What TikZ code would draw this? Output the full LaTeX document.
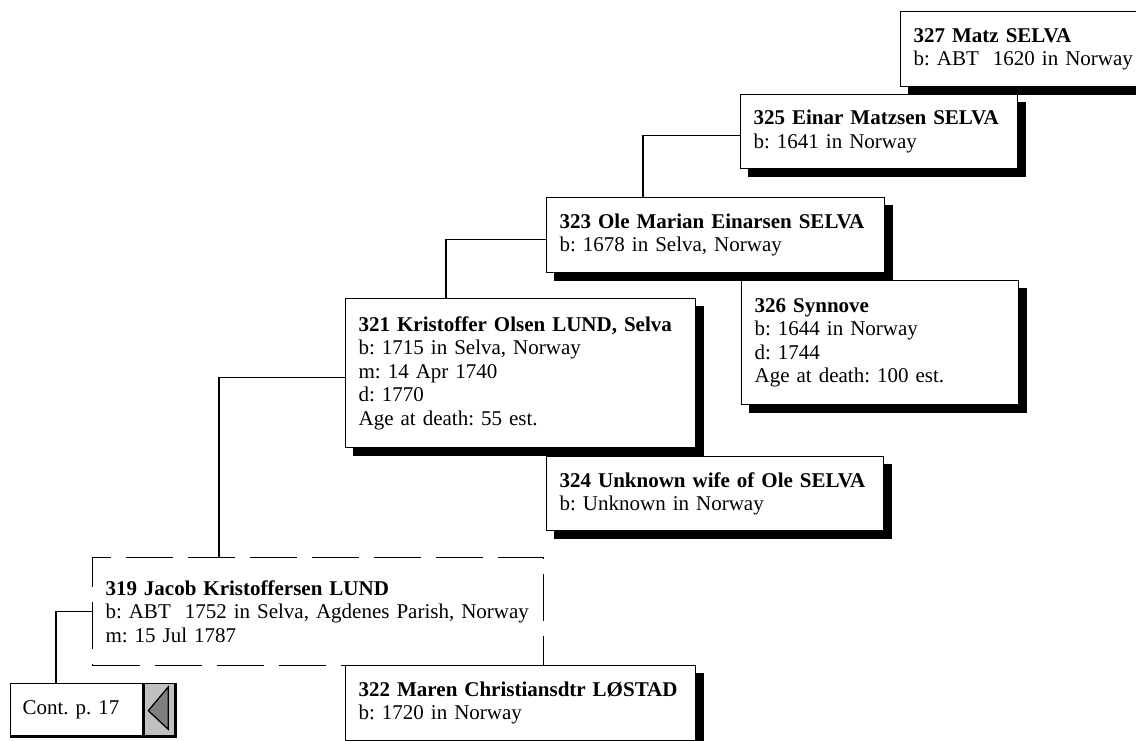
\documentclass[tikz,border=0pt]{standalone}
\usepackage{fontspec}
\setmainfont{Liberation Serif}
\usetikzlibrary{calc}
\pgfdeclarelayer{bg}
\pgfsetlayers{bg,main}
\definecolor{lightgr}{RGB}{192,192,192}
\definecolor{darkgr}{RGB}{128,128,128}
\newcommand{\boxfont}{\fontsize{21}{23.5}\selectfont\frenchspacing\hyphenpenalty=10000\relax}
\tikzset{
  person/.style={draw=black, line width=1.3pt, fill=white, anchor=north west,
    align=left, inner xsep=13pt, inner ysep=0pt, font=\boxfont},
  dashedperson/.style={person, dash pattern=on 47pt off 15pt, line width=1pt},
  link/.style={draw=black, line width=1.3pt},
  shadowfill/.style={fill=black},
}
\begin{document}
\begin{tikzpicture}[x=1pt,y=-1pt]
\useasboundingbox (0,0) rectangle (1136,741);
\clip (0,0) rectangle (1136,741);

\node[person, text width=250pt, minimum height=75pt] (b327) at (900,11)
  {\textbf{327 Matz SELVA}\\b: ABT\ \ 1620 in Norway};
\node[person, text width=251pt, minimum height=74pt] (b325) at (740,94)
  {\textbf{325 Einar Matzsen SELVA}\\b: 1641 in Norway};
\node[person, text width=312pt, minimum height=75pt] (b323) at (546,197)
  {\textbf{323 Ole Marian Einarsen SELVA}\\b: 1678 in Selva, Norway};
\node[person, text width=251pt, minimum height=124pt] (b326) at (741,280)
  {\textbf{326 Synnove}\\b: 1644 in Norway\\d: 1744\\Age at death: 100 est.};
\node[person, text width=324pt, minimum height=149pt] (b321) at (345,298)
  {\textbf{321 Kristoffer Olsen LUND, Selva}\\b: 1715 in Selva, Norway\\m: 14 Apr 1740\\d: 1770\\Age at death: 55 est.};
\node[person, text width=311pt, minimum height=74pt] (b324) at (546,456)
  {\textbf{324 Unknown wife of Ole SELVA}\\b: Unknown in Norway};
\node[dashedperson, text width=425pt, minimum height=108pt] (b319) at (92,557)
  {\textbf{319 Jacob Kristoffersen LUND}\\b: ABT\ \ 1752 in Selva, Agdenes Parish, Norway\\m: 15 Jul 1787};
\node[person, text width=324pt, minimum height=75pt] (b322) at (345,665)
  {\textbf{322 Maren Christiansdtr LØSTAD}\\b: 1720 in Norway};

% continuation box
\node[person, inner xsep=12pt, text width=108pt, minimum height=52pt] (cont) at (10,683)
  {Cont. p. 17};
\node[draw=black, line width=1.3pt, fill=lightgr, anchor=north west, minimum width=31pt,
  minimum height=52pt, inner sep=0pt] (contarrow) at (cont.north east) {};
\draw[line width=1.3pt, fill=darkgr] ($(contarrow.west)+(5,1)$) -- ($(contarrow.north west)+(25,4)$)
  -- ($(contarrow.south west)+(25,-7)$) -- cycle;
\draw[line width=3pt] ($(cont.south west)+(0,0.5)$) -- ($(contarrow.south east)+(0,0.5)$)
  -- ($(contarrow.north east)+(0,0)$);

\begin{pgfonlayer}{bg}
  \foreach \n in {b327,b325,b323,b326,b321,b324,b322}
    \fill[shadowfill] ($(\n.north west)+(8,8)$) rectangle ($(\n.south east)+(8,8)$);
  \draw[link] ($(b325.west)+(0,4)$) -| ($(b323.north west)+(97,0)$);
  \draw[link] ($(b323.west)+(0,4)$) -| ($(b321.north west)+(101,0)$);
  \draw[link] ($(b321.west)+(0,4)$) -| ($(b319.north west)+(127,0)$);
  \draw[link] (b319.west) -| ($(cont.north west)+(46,0)$);
\end{pgfonlayer}
\end{tikzpicture}
\end{document}
